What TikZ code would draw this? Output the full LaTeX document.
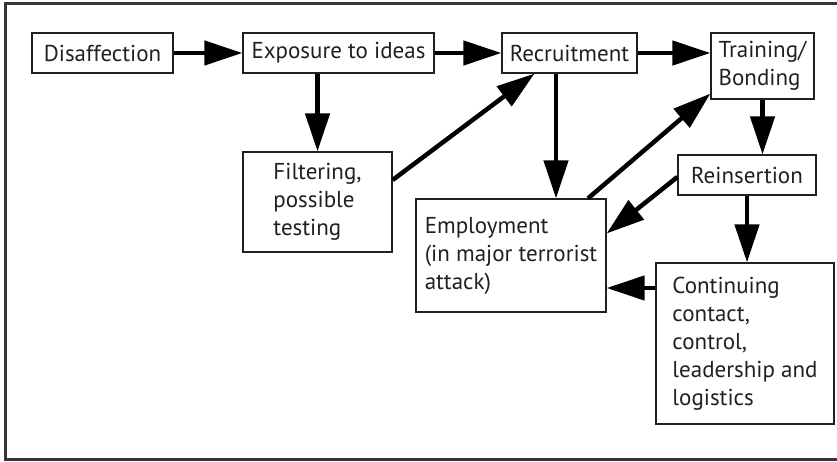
\documentclass[tikz,border=0pt]{standalone}
\usepackage{fontspec}
\setmainfont{PT Sans}
\usetikzlibrary{arrows.meta}

\definecolor{ink}{HTML}{231F20}

\tikzset{
  stage/.style = {draw = ink, line width = 1.2pt, text = ink, align = left,
    inner sep = 0pt, font = \fontsize{23}{28}\selectfont},
  flow/.style = {line width = 4.5pt, -{Triangle[length = 38pt, width = 24pt]}}
}

\begin{document}
\begin{tikzpicture}[x = 1pt, y = -1pt]
    \useasboundingbox (0, 0) rectangle (837, 462);
    \clip (0, 0) rectangle (837, 462);
    \draw [draw = ink!90, line width = 2.6pt] (5.3, 3.7) rectangle (850, 459.5);

    \node [stage, minimum width = 141pt, minimum height = 40pt] (dis) at (102.5, 53) {Disaffection};
    \node [stage, minimum width = 191pt, minimum height = 40pt] (expo) at (338.5, 53) {Exposure to ideas};
    \node [stage, minimum width = 135pt, minimum height = 40pt] (recr) at (569.5, 53) {Recruitment};
    \node [stage, minimum width = 103pt, minimum height = 66pt] (train) at (762.5, 66) {Training/\\Bonding};
    \node [stage, minimum width = 149pt, minimum height = 100pt] (filt) at (317.5, 202) {Filtering,\\possible\\testing};
    \node [stage, minimum width = 138pt, minimum height = 40pt] (reins) at (747, 175) {Reinsertion};
    \node [stage, minimum width = 190pt, minimum height = 113pt] (empl) at (511, 255.5) {Employment\\(in major terrorist\\attack)};
    \node [stage, minimum width = 178pt, minimum height = 161pt] (cont) at (745, 343.5) {Continuing\\contact,\\control,\\leadership and\\logistics};

    % main line
    \draw [flow] (dis.east) -- (expo.west);
    \draw [flow] (expo.east) -- (recr.west);
    \draw [flow] (recr.east) -- (recr.east -| train.west);
    \draw [flow] (expo.south -| filt.north) -- (filt.north);
    \draw [flow] ([yshift = 22pt]filt.east) -- ([xshift = -35pt]recr.south);
    \draw [flow] ([xshift = -13.5pt]recr.south) -- ([xshift = -13.5pt]recr.south |- empl.north);
    \draw [flow] ([xshift = 77pt]empl.north) -- ([yshift = 6pt]train.south west);
    \draw [flow] (train.south) -- (train.south |- reins.north);
    \draw [flow] ([yshift = -2pt]reins.west) -- ([yshift = 22pt]empl.east);
    \draw [flow] (reins.south) -- (reins.south |- cont.north);
    \draw [flow] ([yshift = 55.5pt]cont.west) -- ([yshift = 55.5pt]cont.west -| empl.east);
\end{tikzpicture}
\end{document}
